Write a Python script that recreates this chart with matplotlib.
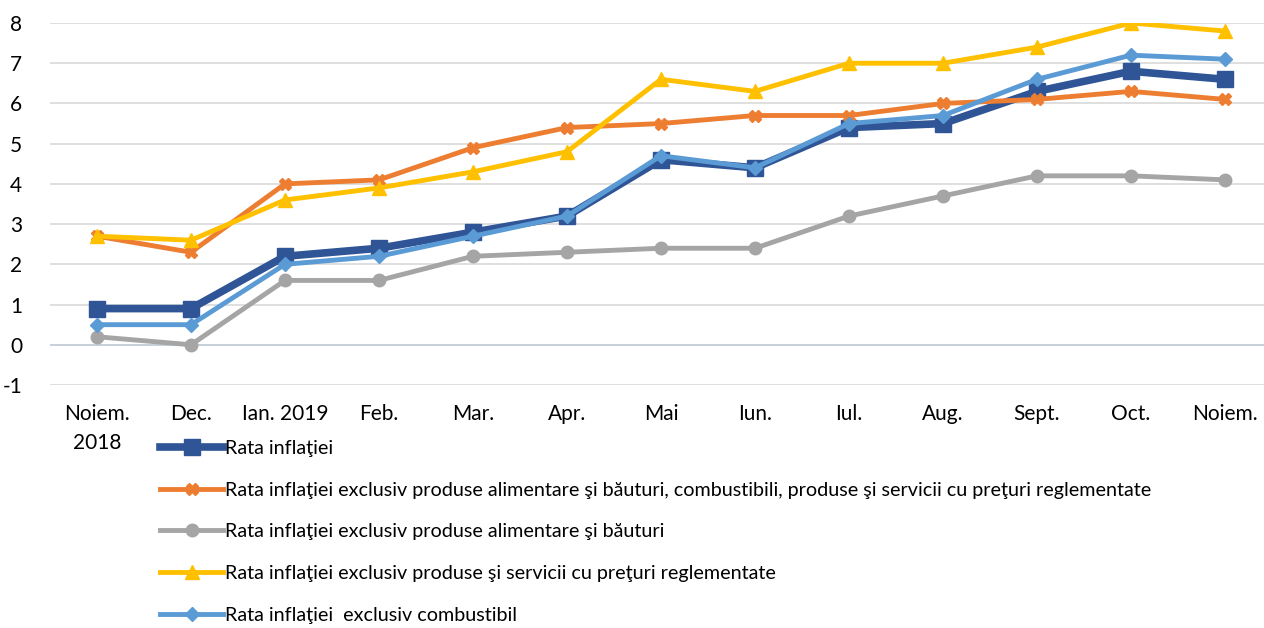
import matplotlib
matplotlib.use("Agg")
import matplotlib.pyplot as plt

plt.rcParams['font.family'] = ['Lato', 'DejaVu Sans']
plt.rcParams['axes.unicode_minus'] = False

months = ["Noiem.\n2018", "Dec.", "Ian. 2019", "Feb.", "Mar.", "Apr.", "Mai",
          "Iun.", "Iul.", "Aug.", "Sept.", "Oct.", "Noiem."]

rata = [0.9, 0.9, 2.2, 2.4, 2.8, 3.2, 4.6, 4.4, 5.4, 5.5, 6.3, 6.8, 6.6]
excl_alim_comb_reg = [2.7, 2.3, 4.0, 4.1, 4.9, 5.4, 5.5, 5.7, 5.7, 6.0, 6.1, 6.3, 6.1]
excl_alim = [0.2, 0.0, 1.6, 1.6, 2.2, 2.3, 2.4, 2.4, 3.2, 3.7, 4.2, 4.2, 4.1]
excl_reg = [2.7, 2.6, 3.6, 3.9, 4.3, 4.8, 6.6, 6.3, 7.0, 7.0, 7.4, 8.0, 7.8]
excl_comb = [0.5, 0.5, 2.0, 2.2, 2.7, 3.2, 4.7, 4.4, 5.5, 5.7, 6.6, 7.2, 7.1]

labels = [
    "Rata inflaţiei",
    "Rata inflaţiei exclusiv produse alimentare şi băuturi, combustibili, produse şi servicii cu preţuri reglementate",
    "Rata inflaţiei exclusiv produse alimentare şi băuturi",
    "Rata inflaţiei exclusiv produse şi servicii cu preţuri reglementate",
    "Rata inflaţiei  exclusiv combustibil",
]

fig = plt.figure(figsize=(12.64, 6.28), dpi=100)
ax = fig.add_axes([50 / 1264, 1 - 385 / 628, 1222 / 1264, 362 / 628])

x = list(range(len(months)))
ax.plot(x, rata, color="#2f5597", lw=5.5, marker="s", ms=12, label=labels[0], zorder=3)
ax.plot(x, excl_alim_comb_reg, color="#ed7d31", lw=3.5, marker="X", ms=9, label=labels[1], zorder=3)
ax.plot(x, excl_alim, color="#a5a5a5", lw=3.5, marker="o", ms=9, label=labels[2], zorder=3)
ax.plot(x, excl_reg, color="#ffc000", lw=3.5, marker="^", ms=10, label=labels[3], zorder=3)
ax.plot(x, excl_comb, color="#5b9bd5", lw=3.5, marker="D", ms=7, label=labels[4], zorder=3)

ax.set_xlim(-0.5, len(months) - 0.5)
ax.set_ylim(-1, 8)
ax.set_yticks(range(-1, 9))
ax.set_xticks(x)
ax.set_xticklabels(months, linespacing=1.55)
ax.tick_params(axis="both", length=0, labelsize=15, colors="#000000")
ax.tick_params(axis="x", pad=14)
ax.tick_params(axis="y", pad=20)
ax.grid(axis="y", color="#d9d9d9", lw=1.2, zorder=0)
ax.axhline(0, color="#5b9bd5", lw=1.2, zorder=1)
for s in ax.spines.values():
    s.set_visible(False)

fig.legend(loc="upper left", bbox_to_anchor=(160 / 1264, 1 - 440 / 628), frameon=False,
           fontsize=14.2, handlelength=3.2, handletextpad=0.1, labelspacing=1.25,
           borderpad=0, borderaxespad=0)

fig.savefig("out.png", dpi=100)
